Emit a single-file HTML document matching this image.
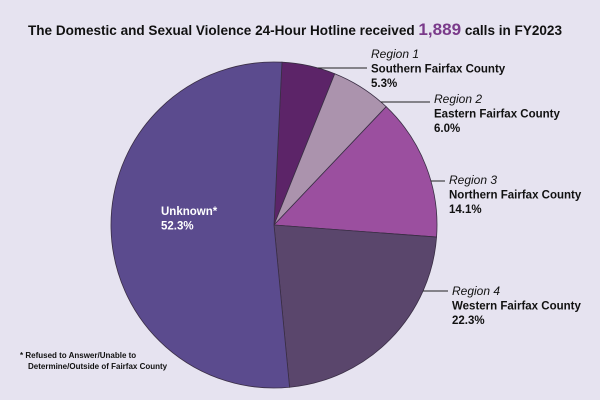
<!DOCTYPE html>
<html><head><meta charset="utf-8"><style>
body{margin:0;background:#e6e3f0;}
svg{display:block;font-family:"Liberation Sans",sans-serif;}
.it{font-style:italic;font-size:12px;fill:#111;}
.b{font-weight:bold;font-size:11.5px;fill:#111;}
</style></head><body>
<svg width="600" height="400">
<rect width="600" height="400" fill="#e6e3f0"/>
<text x="295" y="35" text-anchor="middle" font-size="13.5" font-weight="bold" fill="#111" textLength="534" lengthAdjust="spacingAndGlyphs">The Domestic and Sexual Violence 24-Hour Hotline received <tspan fill="#7a3a8a" font-size="17">1,889</tspan> calls in FY2023</text>
<g id="slices"></g>
<g id="labels"></g>
<text x="20" y="358" font-size="8" font-weight="bold" fill="#111">* Refused to Answer/Unable to</text>
<text x="28" y="369" font-size="8" font-weight="bold" fill="#111">Determine/Outside of Fairfax County</text>
</svg>
<script>
const categories=["Region 1","Region 2","Region 3","Region 4","Unknown"];
const subtitles=["Southern Fairfax County","Eastern Fairfax County","Northern Fairfax County","Western Fairfax County",""];
const values=[5.3,6.0,14.1,22.3,52.3];
const colors=["#5c2468","#ab93ad","#9b4f9f","#5a466c","#5b4b8e"];
const cx=274,cy=225,r=163,start=2.8;
const ns="http://www.w3.org/2000/svg";
const total=values.reduce((a,b)=>a+b,0);
function pt(deg,rr){const a=(deg-90)*Math.PI/180;return [cx+rr*Math.cos(a),cy+rr*Math.sin(a)];}
const sg=document.getElementById('slices'),lg=document.getElementById('labels');
const labelPos=[[371,58,68],[434,103,102],[449,184,181],[452,295,291]];
let ang=start;
values.forEach((v,i)=>{
  const sweep=v/total*360,a0=ang,a1=ang+sweep;ang=a1;
  const p0=pt(a0,r),p1=pt(a1,r);
  const p=document.createElementNS(ns,'path');
  p.setAttribute('d',`M${cx},${cy}L${p0[0]},${p0[1]}A${r},${r} 0 ${sweep>180?1:0} 1 ${p1[0]},${p1[1]}Z`);
  p.setAttribute('fill',colors[i]);p.setAttribute('stroke','#3a2e45');p.setAttribute('stroke-width','0.8');
  
  
  sg.appendChild(p);
  const t=document.createElementNS(ns,'text');
  if(i<4){
    const [lx,ly,liney]=labelPos[i];
    const dy=liney-cy;
    const ex=cx+Math.sqrt(Math.max(0,r*r-dy*dy));
    const ln=document.createElementNS(ns,'line');
    ln.setAttribute('x1',ex);ln.setAttribute('y1',liney);ln.setAttribute('x2',i==0?367:lx-4);ln.setAttribute('y2',liney);
    ln.setAttribute('stroke','#222');ln.setAttribute('stroke-width','1');
    
    
    lg.appendChild(ln);
    t.innerHTML=`<tspan class="it" x="${lx}" y="${ly}">${categories[i]}</tspan><tspan class="b" x="${lx}" y="${ly+14.5}">${subtitles[i]}</tspan><tspan class="b" x="${lx}" y="${ly+29}">${v.toFixed(1)}%</tspan>`;
  } else {
    t.innerHTML=`<tspan x="161" y="215">Unknown*</tspan><tspan x="161" y="229.5">${v.toFixed(1)}%</tspan>`;
    t.setAttribute('fill','#fff');t.setAttribute('font-weight','bold');t.setAttribute('font-size','11.5');
  }
  
  
  lg.appendChild(t);
});
</script>
</body></html>
